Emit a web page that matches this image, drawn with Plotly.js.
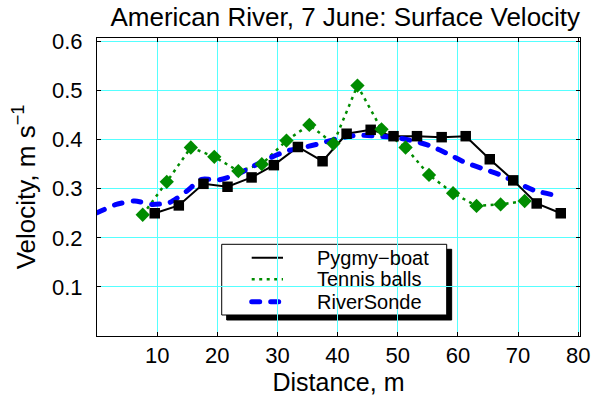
<!DOCTYPE html>
<html>
<head>
<meta charset="utf-8">
<script src="https://cdn.plot.ly/plotly-3.0.1.min.js"></script>
<style>
html,body{margin:0;padding:0;background:#fff;}
#chart{width:592px;height:402px;}
.scatterlayer .trace:nth-child(3) .js-line{stroke-linecap:round;}
</style>
</head>
<body>
<div id="chart"></div>
<script>
// Pygmy-boat
const pygmyDist = [9.6, 13.6, 17.7, 21.7, 25.7, 29.4, 33.4, 37.5, 41.5, 45.5, 49.3, 53.2, 57.3, 61.3, 65.3, 69.2, 73.1, 77.1];
const pygmyVel  = [0.250, 0.266, 0.310, 0.304, 0.323, 0.348, 0.385, 0.356, 0.412, 0.420, 0.407, 0.407, 0.405, 0.407, 0.360, 0.317, 0.270, 0.250];
// Tennis balls
const tennisDist = [7.6, 11.6, 15.6, 19.5, 23.5, 27.4, 31.5, 35.3, 39.3, 43.3, 47.3, 51.3, 55.2, 59.2, 63.1, 67.1, 71.1];
const tennisVel  = [0.247, 0.314, 0.384, 0.365, 0.336, 0.350, 0.398, 0.430, 0.392, 0.510, 0.421, 0.384, 0.328, 0.291, 0.265, 0.268, 0.275];
// RiverSonde
const sondeDist = [0, 3.2, 6.3, 9.1, 12.1, 14.9, 17.4, 20.2, 23.2, 26.0, 28.8, 31.6, 34.3, 37.1, 39.9, 43.5, 46.6, 49.9, 52.7, 55.5, 58.5, 61.3, 64.1, 67.1, 69.9, 72.6, 76.0];
const sondeVel  = [0.251, 0.268, 0.275, 0.268, 0.272, 0.295, 0.319, 0.318, 0.329, 0.346, 0.363, 0.377, 0.384, 0.392, 0.402, 0.409, 0.407, 0.404, 0.397, 0.387, 0.370, 0.353, 0.341, 0.328, 0.312, 0.297, 0.287];

const xTicks = [10, 20, 30, 40, 50, 60, 70, 80];
const yTicks = [0.1, 0.2, 0.3, 0.4, 0.5, 0.6];
const names = ["Pygmy\u2212boat", "Tennis balls", "RiverSonde"];

const FONT = "Liberation Sans, Arial, Helvetica, sans-serif";
const COLORS = ["#000000", "#008c00", "#0000ff"];
const LINES = [
  {color: COLORS[0], width: 2},
  {color: COLORS[1], width: 2.5, dash: "3px,4.5px"},
  {color: COLORS[2], width: 5, dash: "8px,11px"}
];

const traces = [
  {x: pygmyDist, y: pygmyVel, type: "scatter", mode: "lines", name: names[0], line: LINES[0]},
  {x: tennisDist, y: tennisVel, type: "scatter", mode: "lines", name: names[1], line: LINES[1]},
  {x: sondeDist, y: sondeVel, type: "scatter", mode: "lines", name: names[2],
   line: Object.assign({}, LINES[2], {shape: "spline", smoothing: 0.6})},
  {x: pygmyDist, y: pygmyVel, type: "scatter", mode: "markers", name: names[0],
   marker: {symbol: "square", size: 10.5, color: COLORS[0]}},
  {x: tennisDist, y: tennisVel, type: "scatter", mode: "markers", name: names[1],
   marker: {symbol: "diamond", size: 11, color: COLORS[1]}}
];

// legend box drawn as decoration (paper coordinates)
const LEG = {x0: 0.2582, x1: 0.724, y0: 0.0705, y1: 0.3077, dx: 0.0103, dy: 0.0168,
             sx0: 0.3203, sx1: 0.3851, tx: 0.4513, rows: [0.2628, 0.1903, 0.1151]};
const shapes = [
  {type: "rect", xref: "paper", yref: "paper", layer: "between",
   x0: LEG.x0 + LEG.dx, x1: LEG.x1 + LEG.dx, y0: LEG.y0 - LEG.dy, y1: LEG.y1 - LEG.dy,
   fillcolor: "rgb(0,0,0)", opacity: 1, line: {color: "rgb(0,0,0)", width: 1}},
  {type: "rect", xref: "paper", yref: "paper", layer: "between",
   x0: LEG.x0, x1: LEG.x1, y0: LEG.y0, y1: LEG.y1,
   fillcolor: "#fff", line: {color: "#000", width: 1}}
];
const annotations = [];
names.forEach((n, i) => {
  shapes.push({type: "line", xref: "paper", yref: "paper", layer: "between",
    x0: LEG.sx0, x1: LEG.sx1, y0: LEG.rows[i], y1: LEG.rows[i], line: LINES[i]});
  annotations.push({xref: "paper", yref: "paper", x: LEG.tx, y: LEG.rows[i], text: n,
    showarrow: false, xanchor: "left", yanchor: "middle",
    font: {family: FONT, size: 20, color: "#000"}});
});

const layout = {
  width: 592, height: 402,
  margin: {l: 97, r: 12, t: 38, b: 66},
  paper_bgcolor: "#ffffff", plot_bgcolor: "#ffffff",
  font: {family: FONT, size: 22, color: "#000"},
  showlegend: false,
  title: {text: "American River, 7 June: Surface Velocity", font: {family: FONT, size: 26, color: "#000"},
          x: 0.514, xref: "paper", xanchor: "center", y: 0.958, yref: "container", yanchor: "middle"},
  xaxis: {range: [0, 80.3], tickvals: xTicks, ticktext: xTicks.map(String),
          showgrid: true, gridcolor: "#55ffff", gridwidth: 1, zeroline: false,
          showline: true, linecolor: "#000", linewidth: 1, mirror: "ticks",
          ticks: "inside", ticklen: 4, tickcolor: "#000",
          tickfont: {family: FONT, size: 22},
          title: {text: "Distance, m", font: {family: FONT, size: 25}, standoff: 3}},
  yaxis: {range: [0, 0.607], tickvals: yTicks, ticktext: yTicks.map(v => v.toFixed(1)),
          showgrid: true, gridcolor: "#55ffff", gridwidth: 1, zeroline: false,
          showline: true, linecolor: "#000", linewidth: 1, mirror: "ticks",
          ticks: "inside", ticklen: 4, tickcolor: "#000", ticklabelstandoff: 9,
          tickfont: {family: FONT, size: 22},
          title: {text: "Velocity, m s<sup>\u22121</sup>", font: {family: FONT, size: 26}, standoff: 8}},
  shapes: shapes,
  annotations: annotations
};

Plotly.newPlot("chart", traces, layout, {displayModeBar: false, staticPlot: true}).then(gd => {
  // round caps for the RiverSonde legend sample
  const sp = gd.querySelectorAll(".shapelayer path");
  if (sp.length) sp[sp.length - 1].style.strokeLinecap = "round";
});
</script>
</body>
</html>
